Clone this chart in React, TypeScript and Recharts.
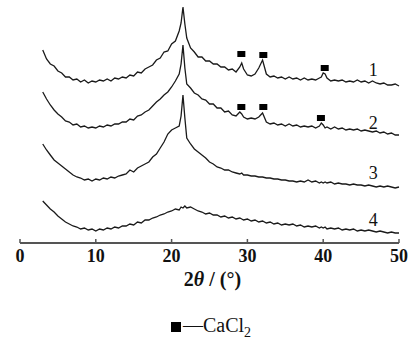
import React from 'react';
import { ComposedChart, Line, Scatter, XAxis, YAxis } from 'recharts';

// 2θ positions shared by the four patterns
const twoTheta = [
  3, 3.5, 4, 4.5, 5, 5.5, 6, 6.5, 7, 7.5, 8, 8.5, 9, 9.5, 10, 10.5, 11, 11.5, 12, 12.5,
  13, 13.5, 14, 14.5, 15, 15.5, 16, 16.5, 17, 17.5, 18, 18.5, 19, 19.5, 20, 20.5, 21, 21.25, 21.5, 21.75,
  22, 22.5, 23, 23.5, 24, 24.5, 25, 25.5, 26, 26.5, 27, 27.5, 28, 28.5, 29, 29.25, 29.5, 30, 30.5, 31,
  31.5, 32, 32.5, 33, 33.5, 34, 34.5, 35, 35.5, 36, 36.5, 37, 37.5, 38, 38.5, 39, 39.5, 39.75, 40, 40.25,
  40.5, 41, 41.5, 42, 42.5, 43, 43.5, 44, 44.5, 45, 45.5, 46, 46.5, 47, 47.5, 48, 48.5, 49, 49.5, 50,
];

// stacked intensities (offset already included)
const pattern1 = [
  193, 184, 179, 177, 172, 170, 166, 166, 163, 164, 161, 163, 160, 162, 161, 163, 162, 164, 162, 165,
  164, 166, 165, 168, 167, 171, 170, 174, 176, 178, 183, 185, 191, 192, 199, 202, 212, 220, 236, 219,
  205, 195, 191, 186, 186, 182, 182, 179, 179, 176, 176, 173, 174, 171, 176, 180, 174, 168, 167, 169,
  175, 183, 169, 166, 167, 165, 166, 164, 166, 164, 165, 163, 165, 163, 164, 163, 165, 166, 170, 169,
  165, 162, 163, 162, 163, 161, 162, 161, 163, 161, 162, 160, 162, 160, 159, 160, 158, 158, 159, 157,
];
const pattern2 = [
  151, 144, 138, 133, 129, 126, 122, 121, 118, 119, 116, 117, 115, 116, 115, 117, 116, 118, 117, 119,
  119, 121, 121, 124, 123, 127, 128, 131, 133, 137, 141, 144, 148, 151, 156, 162, 169, 179, 198, 175,
  159, 155, 150, 148, 144, 143, 139, 139, 135, 135, 131, 132, 128, 127, 131, 129, 126, 124, 125, 124,
  126, 130, 121, 119, 120, 118, 119, 117, 119, 117, 118, 116, 117, 116, 117, 115, 117, 120, 118, 115,
  116, 114, 116, 114, 115, 113, 114, 113, 114, 112, 113, 112, 111, 112, 110, 111, 109, 110, 108, 108,
];
const pattern3 = [
  99, 93, 88, 83, 80, 77, 74, 71, 68, 66, 65, 63, 64, 62, 64, 63, 65, 64, 66, 65,
  67, 68, 69, 73, 71, 75, 77, 79, 81, 86, 89, 95, 101, 109, 113, 115, 117, 127, 148, 125,
  105, 99, 94, 91, 88, 85, 81, 79, 76, 75, 73, 73, 71, 70, 69, 70, 68, 68, 67, 67,
  66, 66, 65, 65, 64, 64, 63, 63, 62, 62, 61, 62, 61, 63, 61, 62, 60, 61, 60, 61,
  60, 61, 59, 60, 59, 59, 58, 59, 58, 58, 57, 58, 57, 56, 57, 56, 57, 56, 55, 56,
];
const pattern4 = [
  42, 38, 34, 31, 27, 24, 21, 19, 17, 16, 14, 15, 13, 14, 12, 14, 13, 15, 14, 16,
  15, 17, 17, 19, 18, 21, 20, 23, 23, 25, 26, 28, 29, 31, 32, 34, 33, 36, 35, 37,
  35, 36, 34, 32, 31, 29, 30, 28, 28, 26, 27, 25, 26, 24, 25, 24, 23, 24, 22, 23,
  21, 22, 20, 21, 19, 20, 18, 19, 18, 19, 17, 18, 16, 17, 16, 17, 15, 16, 15, 16,
  14, 15, 14, 15, 13, 14, 13, 14, 12, 13, 12, 13, 12, 11, 12, 11, 10, 11, 10, 10,
];

// CaCl2 reflections marked on patterns 1 and 2
const markerX = [29.2, 32.1, 40.2, 29.2, 32.1, 39.7];
const markerY = [189, 188, 175, 136, 136, 125];

// sample numbers at the right end of each pattern
const sampleNames = ['1', '2', '3', '4'];
const sampleLabelX = [46.6, 46.6, 46.6, 46.6];
const sampleLabelY = [173, 120, 70, 23];

const xTicks = [0, 10, 20, 30, 40, 50];

const chartData = twoTheta.map((x, i) => ({
  x,
  p1: pattern1[i],
  p2: pattern2[i],
  p3: pattern3[i],
  p4: pattern4[i],
}));
const markers = markerX.map((x, i) => ({ x, y: markerY[i] }));
const sampleLabels = sampleNames.map((name, i) => ({ x: sampleLabelX[i], y: sampleLabelY[i], name }));

const serif = '"Liberation Serif", "DejaVu Serif", serif';

const AxisTick = (props: any) => {
  const { x, y, payload } = props;
  return (
    <g>
      <line x1={x} y1={y - 4} x2={x} y2={y} stroke="#555" strokeWidth={1.5} />
      <text x={x} y={y + 19} textAnchor="middle" fontFamily={serif} fontSize={18} fontWeight="bold" fill="#111">
        {payload.value}
      </text>
    </g>
  );
};

const AxisTitle = (props: any) => {
  const { x, y, width } = props.viewBox;
  return (
    <text x={x + width / 2 + 3} y={y + 43} textAnchor="middle" fontFamily={serif} fontSize={20} fontWeight="bold" fill="#111">
      2<tspan fontStyle="italic">θ</tspan> / (°)
    </text>
  );
};

const MarkerShape = (props: any) => (
  <rect x={props.cx - 4} y={props.cy - 3} width={8} height={6} fill="#000" />
);

const SampleLabel = (props: any) => (
  <text x={props.cx} y={props.cy + 6} textAnchor="middle" fontFamily={serif} fontSize={18} fill="#111">
    {props.payload.name}
  </text>
);

export default function App() {
  return (
    <div style={{ position: 'relative', width: 414, height: 341, background: '#fff' }}>
      <style>{'body{margin:0}'}</style>
      <ComposedChart width={414} height={300} data={chartData} margin={{ top: 5, right: 15, left: 20, bottom: 0 }}>
        <XAxis
          dataKey="x"
          type="number"
          domain={[0, 50]}
          ticks={xTicks}
          height={57}
          tickSize={0}
          tickMargin={0}
          tickLine={false}
          axisLine={{ stroke: '#555', strokeWidth: 2 }}
          tick={(p: any) => <AxisTick {...p} />}
          label={(p: any) => <AxisTitle {...p} />}
        />
        <YAxis type="number" domain={[0, 238]} hide />
        <Line dataKey="p1" type="linear" stroke="#1a1a1a" strokeWidth={1.3} dot={false} isAnimationActive={false} />
        <Line dataKey="p2" type="linear" stroke="#1a1a1a" strokeWidth={1.3} dot={false} isAnimationActive={false} />
        <Line dataKey="p3" type="linear" stroke="#1a1a1a" strokeWidth={1.3} dot={false} isAnimationActive={false} />
        <Line dataKey="p4" type="linear" stroke="#1a1a1a" strokeWidth={1.3} dot={false} isAnimationActive={false} />
        <Scatter data={markers} dataKey="y" shape={(p: any) => <MarkerShape {...p} />} isAnimationActive={false} />
        <Scatter data={sampleLabels} dataKey="y" shape={(p: any) => <SampleLabel {...p} />} isAnimationActive={false} />
      </ComposedChart>
      <div
        style={{
          position: 'absolute',
          top: 314,
          left: 0,
          width: 414,
          paddingLeft: 8,
          boxSizing: 'border-box',
          textAlign: 'center',
          fontFamily: serif,
          fontSize: 20,
          color: '#111',
          lineHeight: '22px',
        }}
      >
        <span style={{ display: 'inline-block', width: 10, height: 10, background: '#000', marginRight: 2 }} />
        —CaCl<sub style={{ fontSize: 14 }}>2</sub>
      </div>
    </div>
  );
}
